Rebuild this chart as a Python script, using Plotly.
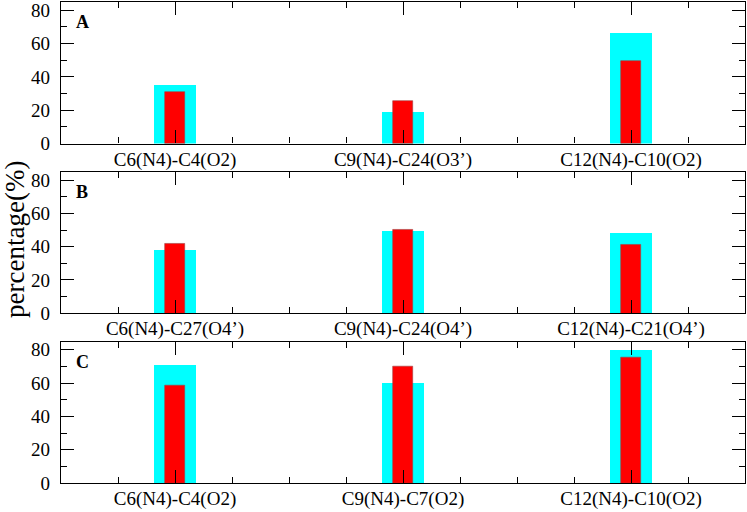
import plotly.graph_objects as go

# ---- data ----
panel_labels = ["A", "B", "C"]
categories_A = ["C6(N4)-C4(O2)", "C9(N4)-C24(O3’)", "C12(N4)-C10(O2)"]
categories_B = ["C6(N4)-C27(O4’)", "C9(N4)-C24(O4’)", "C12(N4)-C21(O4’)"]
categories_C = ["C6(N4)-C4(O2)", "C9(N4)-C7(O2)", "C12(N4)-C10(O2)"]
cyan_A = [35.0, 19.0, 66.5]
red_A = [30.7, 25.5, 49.5]
cyan_B = [38.3, 49.6, 48.3]
red_B = [42.0, 50.2, 41.2]
cyan_C = [71.3, 60.3, 80.0]
red_C = [58.4, 70.0, 75.4]
y_tick_values = [0, 20, 40, 60, 80]

panels = [
    (categories_A, cyan_A, red_A),
    (categories_B, cyan_B, red_B),
    (categories_C, cyan_C, red_C),
]

W, H = 747, 512
ML, MR, MT, MB = 61, 2, 2, 29
plot_h = H - MT - MB
panel_h = 141.5 / plot_h
gap = (1 - 3 * panel_h) / 2

font_family = "Liberation Serif, Times New Roman, serif"

fig = go.Figure()
annotations = []
for i, (cats, cy, rd) in enumerate(panels):
    n = i + 1
    xs = [2 + 4 * k for k in range(len(cats))]
    xa = "x" if n == 1 else f"x{n}"
    ya = "y" if n == 1 else f"y{n}"
    fig.add_trace(go.Bar(x=xs, y=cy, width=0.725, marker=dict(color="#00ffff", line=dict(width=0)),
                         xaxis=xa, yaxis=ya, showlegend=False, hoverinfo="skip"))
    fig.add_trace(go.Bar(x=xs, y=rd, width=0.35, marker=dict(color="#ff0000", line=dict(width=0.6, color="#a04040")),
                         xaxis=xa, yaxis=ya, showlegend=False, hoverinfo="skip"))
    top = 1 - i * (panel_h + gap)
    bottom = top - panel_h
    axis_common = dict(
        showline=True, linecolor="black", linewidth=1.4, mirror="ticks",
        ticks="inside", tickcolor="black", tickwidth=1.1, showgrid=False, zeroline=False,
        tickfont=dict(family=font_family, size=19, color="black"), automargin=False,
        ticklabeloverflow="allow",
    )
    fig.layout[f"xaxis{'' if n == 1 else n}"] = dict(
        axis_common, range=[0, 12], tickmode="array", tickvals=xs, ticktext=cats,
        ticklen=13, anchor=ya, ticklabelstandoff=-2,
        minor=dict(dtick=1, tick0=0, ticklen=6, ticks="inside", tickcolor="black", tickwidth=1.1),
    )
    fig.layout[f"yaxis{'' if n == 1 else n}"] = dict(
        axis_common, range=[0, 85], tickmode="array", tickvals=y_tick_values,
        ticklen=13, anchor=xa, domain=[max(bottom, 0), min(top, 1)], ticklabelstandoff=6,
        minor=dict(dtick=10, tick0=0, ticklen=6, ticks="inside", tickcolor="black", tickwidth=1.1),
    )
    annotations.append(dict(
        text=f"<b>{panel_labels[i]}</b>", xref=f"{xa} domain", yref=f"{ya} domain",
        x=(82 - ML) / (W - ML - MR), y=1 - 20 / 141.5, xanchor="center", yanchor="middle",
        showarrow=False, font=dict(family=font_family, size=18, color="black"),
    ))

annotations.append(dict(
    text="percentage(%)", xref="paper", yref="paper",
    x=(15 - ML) / (W - ML - MR), y=1 - (240 - MT) / plot_h, textangle=-90,
    xanchor="center", yanchor="middle", showarrow=False,
    font=dict(family=font_family, size=27, color="black"),
))

fig.update_layout(
    width=W, height=H, margin=dict(l=ML, r=MR, t=MT, b=MB, autoexpand=False),
    paper_bgcolor="white", plot_bgcolor="white", barmode="overlay",
    annotations=annotations, bargap=0,
)

fig.write_html("out.html", config={"displayModeBar": False},
               post_script="document.body.style.margin='0px';")
